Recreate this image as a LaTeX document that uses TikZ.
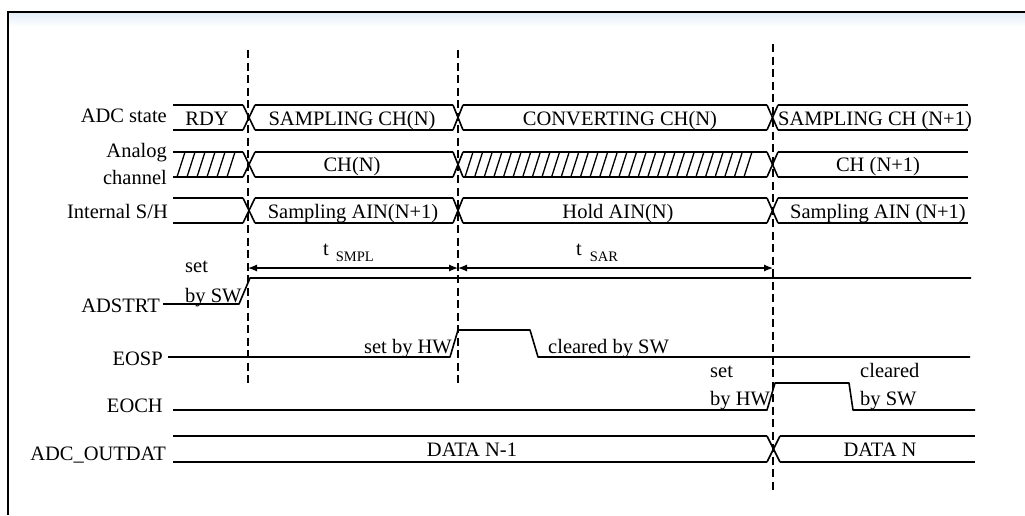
\documentclass[tikz,border=0pt]{standalone}
\usepackage{fontspec}
\setmainfont{Liberation Serif}
\usetikzlibrary{arrows.meta}
\definecolor{topblue}{HTML}{E6EFF8}
\newcommand{\busseg}[4]{\draw[sig] (#1,#3) -- (#2,#3); \draw[sig] (#1,#4) -- (#2,#4);}
\newcommand{\buscross}[4]{\draw[sig] (#1,#3) -- (#2,#4); \draw[sig] (#1,#4) -- (#2,#3);}
\begin{document}
\begin{tikzpicture}[x=1pt,y=-1pt,
  sig/.style={line width=1.6pt, line join=round},
  lbl/.style={anchor=base east, inner sep=0pt, font=\fontsize{20.5}{24}\selectfont},
  txt/.style={anchor=base, inner sep=0pt, font=\fontsize{20.5}{24}\selectfont},
  ltxt/.style={anchor=base west, inner sep=0pt, font=\fontsize{20.5}{24}\selectfont},
  vdash/.style={line width=1.4pt, dash pattern=on 8pt off 4.5pt},
  hatchline/.style={line width=1.3pt},
  tarrow/.style={line width=1.2pt, {Latex[length=9pt,width=7pt]}-{Latex[length=9pt,width=7pt]}},
  frameline/.style={line width=2.8pt, line join=miter}
]
\useasboundingbox (0,0) rectangle (1025,515);
\fill[white] (0,0) rectangle (1025,515);
% frame
\shade[top color=topblue, bottom color=white] (9.5,13.5) rectangle (1025,27);
\draw[frameline] (8,515) -- (8,12) -- (1025,12);

% dashed guide lines
\coordinate (d1a) at (248,50);  \coordinate (d1b) at (248,385);
\coordinate (d2a) at (458,50);  \coordinate (d2b) at (458,385);
\coordinate (d3a) at (773,44);  \coordinate (d3b) at (773,490);
\draw[vdash] (d1a) -- (d1b);
\draw[vdash] (d2a) -- (d2b);
\draw[vdash] (d3a) -- (d3b);

% row labels
\node[lbl] (lstate) at (167,122) {ADC state};
\node[lbl] (lanalog) at (167,157) {Analog};
\node[lbl] (lchannel) at (167,184) {channel};
\node[lbl] (lsh) at (168,218) {Internal S/H};
\node[lbl] (ladstrt) at (160,312) {ADSTRT};
\node[lbl] (leosp) at (163,365) {EOSP};
\node[lbl] (leoch) at (163,412) {EOCH};
\node[lbl] (lout) at (166,460) {ADC\_OUTDAT};

% buses rows 1-3
\foreach \yt/\yb in {105/130, 152/177, 198/223}{
  \busseg{173}{243}{\yt}{\yb}
  \buscross{243}{255}{\yt}{\yb}
  \busseg{255}{453}{\yt}{\yb}
  \buscross{453}{463}{\yt}{\yb}
  \busseg{463}{767}{\yt}{\yb}
  \buscross{767}{778}{\yt}{\yb}
  \busseg{778}{968}{\yt}{\yb}
}
% hatching analog channel
\foreach \i in {0,...,5}{\draw[hatchline] ({177+10*\i},177) -- ({185+10*\i},152);}
\foreach \i in {0,...,29}{\draw[hatchline] ({465+9.62*\i},177) -- ({473+9.62*\i},152);}

% bus texts
\node[txt] (s1) at (207,125) {RDY};
\node[txt] (s2) at (352,125) {SAMPLING CH(N)};
\node[txt] (s3) at (620,125) {CONVERTING CH(N)};
\node[txt] (s4) at (875,125) {SAMPLING CH (N+1)};
\node[txt] (c1) at (352,171) {CH(N)};
\node[txt] (c2) at (878,171) {CH (N+1)};
\node[txt] (h1) at (353,218) {Sampling AIN(N+1)};
\node[txt] (h2) at (618,218) {Hold AIN(N)};
\node[txt] (h3) at (878,218) {Sampling AIN (N+1)};

% timing arrows
\coordinate (t1) at (248,268);
\coordinate (t2) at (458,268);
\coordinate (t3) at (773,268);
\draw[tarrow] (t1) -- (t2);
\draw[tarrow] (t2) -- (t3);
\node[ltxt] (tsmpl) at (323,255) {t\hspace{7pt}\raisebox{-6pt}{\fontsize{14.5}{16}\selectfont SMPL}};
\node[ltxt] (tsar) at (576,255) {t\hspace{8pt}\raisebox{-6pt}{\fontsize{14.5}{16}\selectfont SAR}};

% ADSTRT
\draw[sig] (163,304) -- (239,304) -- (250,278) -- (971,278);
\node[ltxt] (set1) at (185,272) {set};
\node[ltxt] (bysw1) at (185,302) {by SW};

% EOSP
\draw[sig] (168,357) -- (450,357) -- (458,330) -- (530,330) -- (538,357) -- (970,357);
\node[lbl] (sethw1) at (452,353) {set by HW};
\node[ltxt] (clr1) at (548,353) {cleared by SW};

% EOCH
\draw[sig] (173,410) -- (767,410) -- (775,383) -- (849,383) -- (853,410) -- (975,410);
\node[ltxt] (set2) at (710,377) {set};
\node[ltxt] (byhw2) at (710,405) {by HW};
\node[ltxt] (clr2) at (860,377) {cleared};
\node[ltxt] (bysw2) at (860,405) {by SW};

% ADC_OUTDAT
\busseg{173}{767}{436}{462}
\buscross{767}{780}{436}{462}
\busseg{780}{975}{436}{462}
\node[txt] (dn1) at (472,456) {DATA N-1};
\node[txt] (dn) at (880,456) {DATA N};
\end{tikzpicture}
\end{document}
